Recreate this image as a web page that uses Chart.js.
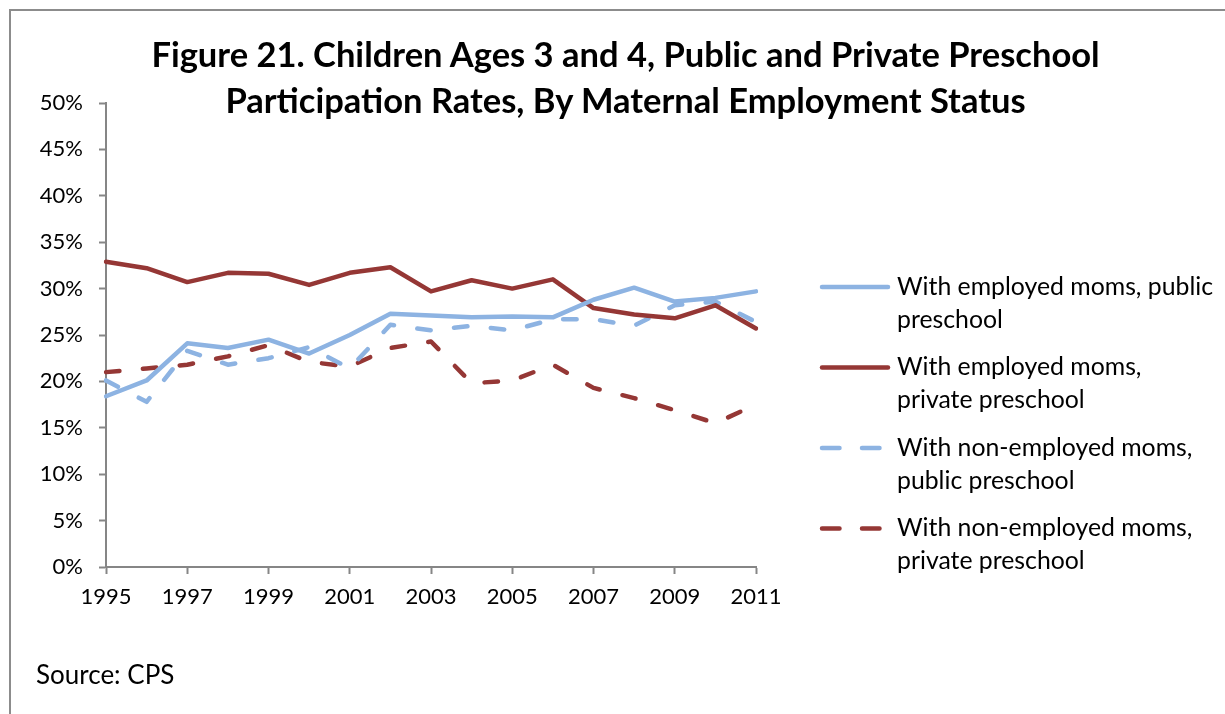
<!DOCTYPE html>
<html>
<head>
<meta charset="utf-8">
<script src="https://cdn.jsdelivr.net/npm/chart.js@4"></script>
<style>
  html, body { margin: 0; padding: 0; background: #fff; }
  body { width: 1225px; height: 714px; position: relative; overflow: hidden; font-family: Lato, sans-serif; color: #000; }
  #frame { position: absolute; left: 9px; top: 9px; right: -4px; bottom: -4px; border-left: 2px solid #8c8c8c; border-top: 2px solid #8c8c8c; }
  #wrap { position: absolute; left: 0; top: 0; width: 1225px; height: 714px; }
  #title { position: absolute; left: 13px; width: 1225px; top: 31px; text-align: center; font-weight: bold; font-size: 34.5px; line-height: 46px; z-index: 2; }
  #source { position: absolute; left: 36px; top: 658px; font-size: 26px; z-index: 2; }
</style>
</head>
<body>
<div id="frame"></div>
<div id="wrap"><canvas id="chart" width="1225" height="714"></canvas></div>
<div id="title">Figure 21. Children Ages 3 and 4, Public and Private Preschool<br>Participation Rates, By Maternal Employment Status</div>
<div id="source">Source: CPS</div>
<script>
// Years on the x axis
const YEARS = ['1995', '1996', '1997', '1998', '1999', '2000', '2001', '2002', '2003',
  '2004', '2005', '2006', '2007', '2008', '2009', '2010', '2011'];

// Participation rates (%)
const EMPLOYED_PUBLIC = [18.4, 20.1, 24.1, 23.6, 24.5, 23.0, 25.0, 27.3, 27.1,
  26.9, 27.0, 26.9, 28.8, 30.1, 28.6, 29.0, 29.7];
const EMPLOYED_PRIVATE = [32.9, 32.2, 30.7, 31.7, 31.6, 30.4, 31.7, 32.3, 29.7,
  30.9, 30.0, 31.0, 27.9, 27.2, 26.8, 28.2, 25.7];
const NONEMP_PUBLIC = [20.1, 17.8, 23.3, 21.8, 22.5, 23.7, 21.4, 26.1, 25.5,
  26.0, 25.5, 26.7, 26.7, 26.0, 28.2, 28.6, 26.4];
const NONEMP_PRIVATE = [21.0, 21.4, 21.8, 22.7, 23.9, 22.1, 21.6, 23.6, 24.3,
  19.8, 20.1, 21.8, 19.3, 18.2, 16.9, 15.5, 17.5];

// Legend labels (already wrapped the way the figure shows them)
const SERIES_NAMES = [
  ['With employed moms, public', 'preschool'],
  ['With employed moms,', 'private preschool'],
  ['With non-employed moms,', 'public preschool'],
  ['With non-employed moms,', 'private preschool']
];

const Y_TICKS = [0, 5, 10, 15, 20, 25, 30, 35, 40, 45, 50];

const BLUE = '#8db3e2';
const RED = '#953735';
const AXIS = '#868686';
const FONT = 'Lato, sans-serif';
const LINE_DASH = [13.5, 23.5];

function series(label, data, color, dashed) {
  return {
    label,
    data,
    borderColor: color,
    backgroundColor: color,
    borderWidth: 4.5,
    borderDash: dashed ? LINE_DASH : [],
    borderCapStyle: 'round',
    borderJoinStyle: 'round',
    pointRadius: 0,
    pointHoverRadius: 0,
    tension: 0,
    fill: false
  };
}

// Legend drawn to the right of the plot, with wrapped labels
const sideLegend = {
  id: 'sideLegend',
  afterDraw(chart) {
    const ctx = chart.ctx;
    chart.data.datasets.forEach((ds, i) => {
      const y = 287 + i * 80.5;
      ctx.save();
      ctx.strokeStyle = ds.borderColor;
      ctx.lineWidth = 4.5;
      ctx.lineCap = 'round';
      ctx.setLineDash(ds.borderDash.length ? [17.5, 22.5] : []);
      ctx.beginPath();
      ctx.moveTo(822, y);
      ctx.lineTo(888, y);
      ctx.stroke();
      ctx.setLineDash([]);
      ctx.fillStyle = '#000';
      ctx.font = '24.8px ' + FONT;
      ctx.textBaseline = 'middle';
      ctx.textAlign = 'left';
      SERIES_NAMES[i].forEach((line, k) => ctx.fillText(line, 897, y + k * 33));
      ctx.restore();
    });
  }
};

new Chart(document.getElementById('chart'), {
  type: 'line',
  data: {
    labels: YEARS,
    datasets: [
      series(SERIES_NAMES[0].join(' '), EMPLOYED_PUBLIC, BLUE, false),
      series(SERIES_NAMES[1].join(' '), EMPLOYED_PRIVATE, RED, false),
      series(SERIES_NAMES[2].join(' '), NONEMP_PUBLIC, BLUE, true),
      series(SERIES_NAMES[3].join(' '), NONEMP_PRIVATE, RED, true)
    ]
  },
  options: {
    responsive: false,
    animation: false,
    events: [],
    layout: { padding: { left: 0, top: 103, right: 469, bottom: 87 } },
    plugins: {
      legend: { display: false },
      title: { display: false },
      tooltip: { enabled: false }
    },
    scales: {
      x: {
        offset: false,
        afterFit: (scale) => { scale.height = 60; },
        grid: {
          drawOnChartArea: false,
          offset: false,
          tickLength: 7,
          tickWidth: 2,
          tickColor: (c) => (c.index % 2 === 0 ? AXIS : 'rgba(0,0,0,0)')
        },
        border: { color: AXIS, width: 2 },
        ticks: {
          autoSkip: false,
          maxRotation: 0,
          padding: 10,
          color: '#000',
          font: { family: FONT, size: 22 },
          callback: function (v, i) { return i % 2 === 0 ? this.getLabelForValue(v) : ''; }
        }
      },
      y: {
        min: 0,
        max: 50,
        afterFit: (scale) => { scale.width = 106; },
        afterBuildTicks: (scale) => { scale.ticks = Y_TICKS.map(v => ({ value: v })); },
        grid: {
          drawOnChartArea: false,
          tickLength: 7,
          tickWidth: 2,
          color: AXIS
        },
        border: { color: AXIS, width: 2 },
        ticks: {
          padding: 16,
          color: '#000',
          font: { family: FONT, size: 22 },
          callback: (v) => v + '%'
        }
      }
    }
  },
  plugins: [sideLegend]
});
</script>
</body>
</html>
